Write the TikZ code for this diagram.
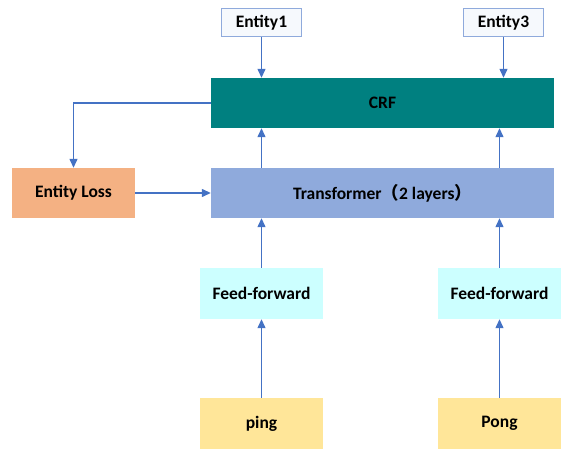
\documentclass[tikz,border=0pt]{standalone}
\usepackage{fontspec}
\setmainfont{Carlito}
\newfontfamily\cjk{Noto Sans CJK SC}
\usepackage{xcolor}
\usetikzlibrary{arrows.meta, positioning, calc}
\definecolor{arrowblue}{RGB}{68,114,196}
\definecolor{entborder}{RGB}{143,170,220}
\definecolor{entfill}{RGB}{246,249,253}
\definecolor{crfteal}{RGB}{0,128,128}
\definecolor{transblue}{RGB}{143,170,220}
\definecolor{lossorange}{RGB}{244,177,131}
\definecolor{ffcyan}{RGB}{204,255,255}
\definecolor{inyellow}{RGB}{255,230,153}

\tikzset{
    box/.style={inner sep=0pt, align=center, font=\fontsize{17.5}{20}\selectfont\bfseries},
    entbox/.style={box, draw=entborder, line width=1pt, fill=entfill, minimum width=80pt, minimum height=28pt},
    layerbox/.style={box, minimum width=343pt, minimum height=50pt},
    smallbox/.style={box, minimum width=123pt, minimum height=51pt},
    flow/.style={draw=arrowblue, line width=1.3pt, -{Triangle[length=9pt, width=8pt]}}
}

\begin{document}
\begin{tikzpicture}[x=1pt, y=1pt]
    \useasboundingbox (0,0) rectangle (561,450);

    \node[entbox] (ent1) at (261.5,427) {Entity1};
    \node[entbox] (ent3) at (503.5,427) {Entity3};
    \node[layerbox, fill=crfteal] (crf) at (382.5,347) {CRF};
    \node[layerbox, fill=transblue] (trans) at (382.5,257) {Transformer{\cjk（}2 layers{\cjk）}};
    \node[smallbox, fill=lossorange, minimum height=50pt] (loss) at (73.5,257) {Entity Loss};
    \node[smallbox, fill=ffcyan] (ff1) at (261.5,156.5) {Feed-forward};
    \node[smallbox, fill=ffcyan] (ff2) at (499.5,156.5) {Feed-forward};
    \node[smallbox, fill=inyellow] (ping) at (261.5,26.5) {ping};
    \node[smallbox, fill=inyellow] (pong) at (499.5,26.5) {Pong};

    \draw[flow] (ent1.south) -- (ent1.south |- crf.north);
    \draw[flow] (ent3.south) -- (ent3.south |- crf.north);
    \draw[flow] (trans.north -| ff1.north) -- (crf.south -| ff1.north);
    \draw[flow] (trans.north -| ff2.north) -- (crf.south -| ff2.north);
    \draw[flow] (ff1.north) -- (ff1.north |- trans.south);
    \draw[flow] (ff2.north) -- (ff2.north |- trans.south);
    \draw[flow] (ping.north) -- (ff1.south);
    \draw[flow] (pong.north) -- (ff2.south);
    \draw[flow] (crf.west) -| (loss.north);
    \draw[flow] (loss.east) -- (trans.west);
\end{tikzpicture}
\end{document}
